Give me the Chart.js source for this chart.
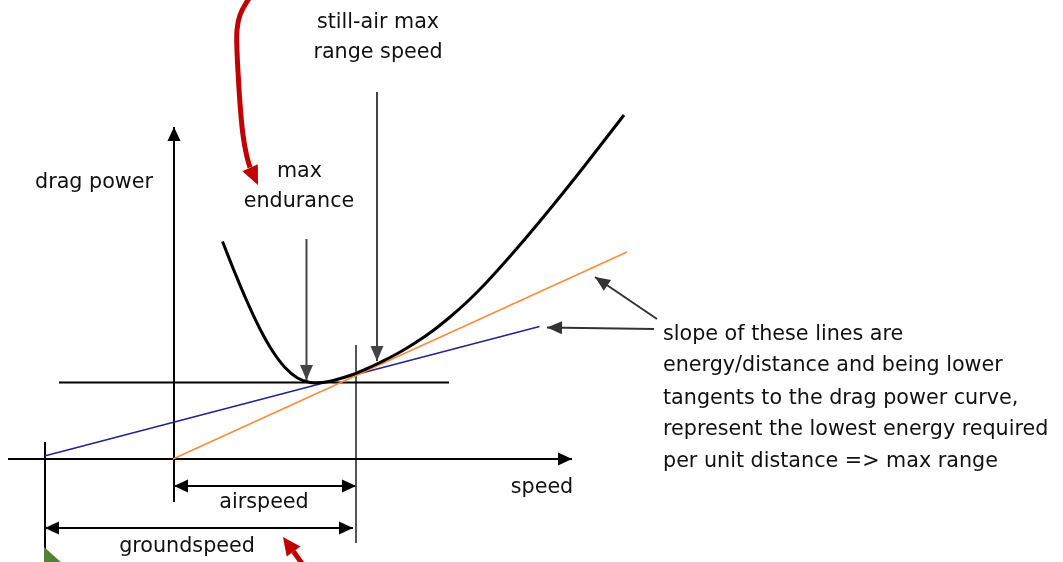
<!DOCTYPE html>
<html>
<head>
<meta charset="utf-8">
<script src="https://cdn.jsdelivr.net/npm/chart.js@4"></script>
<style>
  html, body { margin: 0; padding: 0; background: #fff; }
  canvas { display: block; }
</style>
</head>
<body>
<canvas id="chart" width="1063" height="562"></canvas>
<script>
// drag power curve (speed vs power, arbitrary units)
const curveSpeed = [9.5, 12, 14.5, 17, 19.5, 22, 24.5, 27, 29.5, 32, 35, 38, 41, 44.5, 48, 51.5, 55, 58.5, 62, 66, 70, 75, 80, 85, 89.8];
const curvePower = [43.5, 37.2, 31.3, 26.0, 21.6, 18.3, 16.2, 15.3, 15.3, 15.8, 16.7, 17.9, 19.3, 21.1, 23.2, 25.6, 28.4, 31.5, 35.0, 39.4, 44.0, 50.0, 56.2, 62.6, 68.8];

// tangent lines [speed, power]
const groundTangent = [[-26.1, 0.6], [72.9, 26.5]];
const airTangent = [[-0.4, 0], [90.4, 41.4]];

// axes and guide lines
const speedAxis = [[-33.4, 0], [79.4, 0]];
const powerAxis = [[-0.2, -8.6], [-0.2, 66.4]];
const minPowerLine = [[-23.2, 15.3], [54.8, 15.3]];
const rangeSpeedLine = [[36.2, 22.8], [36.2, -16.8]];
const groundOriginLine = [[-26, 3.4], [-26, -21]];
const airspeedDim = [[-0.2, -5.4], [36.2, -5.4]];
const groundspeedDim = [[-26, -13.8], [35.6, -13.8]];

// pointer arrows
const enduranceArrow = [[26.3, 44], [26.3, 15.8]];
const rangeArrow = [[40.4, 73.4], [40.4, 19.6]];
const bluePointer = [[95.8, 26], [74.4, 26.3]];
const orangePointer = [[96.4, 28], [84, 36.4]];
const redTopArrow = [[16.6, 94.6], [14.6, 91.8], [13, 88.8], [12.4, 85.8], [12.4, 81.8], [12.7, 75.8], [13.1, 69.8], [13.6, 64.8], [14.3, 60.8], [15, 58.3]];
const redTopTip = [16.6, 54.8];
const redBottomArrow = [[26.2, -22], [23.7, -18.5]];
const redBottomTip = [21.6, -15.6];
const greenMark = [[-26.2, -17.6], [-22.6, -20.8], [-26.2, -20.8]];

// labels
const labelTexts = ['drag power', 'max', 'endurance', 'still-air max', 'range speed', 'speed', 'airspeed', 'groundspeed'];
const labelSpeed = [-16.2, 24.9, 24.8, 40.6, 40.6, 73.4, 17.8, 2.4];
const labelPower = [55.2, 57.4, 51.4, 87.2, 81.2, -5.8, -8.8, -17.6];

const noteLines = [
  'slope of these lines are',
  'energy/distance and being lower',
  'tangents to the drag power curve,',
  'represent the lowest energy required',
  'per unit distance => max range'
];
const noteSpeed = 97.6;
const notePower = [24.8, 18.6, 12, 5.8, -0.6];

const FONT = '20.7px "DejaVu Sans", sans-serif';

const pts = (arr) => arr.map(p => ({ x: p[0], y: p[1] }));

const seg = (arr, color, width, extra) => Object.assign({
  data: pts(arr),
  borderColor: color,
  borderWidth: width,
  pointRadius: 0,
  fill: false,
  tension: 0,
  clip: false
}, extra || {});

const curveData = curveSpeed.map((s, i) => ({ x: s, y: curvePower[i] }));

const drawHead = (ctx, tip, from, len, width, color) => {
  const ang = Math.atan2(tip[1] - from[1], tip[0] - from[0]);
  ctx.save();
  ctx.translate(tip[0], tip[1]);
  ctx.rotate(ang);
  ctx.beginPath();
  ctx.moveTo(0, 0);
  ctx.lineTo(-len, width / 2);
  ctx.lineTo(-len, -width / 2);
  ctx.closePath();
  ctx.fillStyle = color;
  ctx.fill();
  ctx.restore();
};

const annotations = {
  id: 'annotations',
  afterDatasetsDraw(chart) {
    const ctx = chart.ctx;
    const xs = chart.scales.x, ys = chart.scales.y;
    const px = (p) => [xs.getPixelForValue(p[0]), ys.getPixelForValue(p[1])];

    // arrow heads
    chart.data.datasets.forEach((ds) => {
      if (!ds.heads) return;
      const p = ds.data.map(d => px([d.x, d.y]));
      const n = p.length;
      if (ds.heads.includes('end')) {
        const tip = ds.tip ? px(ds.tip) : p[n - 1];
        const from = ds.tip ? p[n - 1] : p[n - 2];
        drawHead(ctx, tip, from, ds.headLen, ds.headWidth, ds.borderColor);
      }
      if (ds.heads.includes('start')) {
        drawHead(ctx, p[0], p[1], ds.headLen, ds.headWidth, ds.borderColor);
      }
    });

    // green mark at bottom left
    ctx.save();
    ctx.beginPath();
    greenMark.forEach((g, i) => {
      const q = px(g);
      if (i === 0) ctx.moveTo(q[0], q[1]); else ctx.lineTo(q[0], q[1]);
    });
    ctx.closePath();
    ctx.fillStyle = '#548235';
    ctx.fill();
    ctx.restore();

    // text
    ctx.save();
    ctx.font = FONT;
    ctx.fillStyle = '#111';
    ctx.textBaseline = 'middle';
    ctx.textAlign = 'center';
    labelTexts.forEach((t, i) => {
      const q = px([labelSpeed[i], labelPower[i]]);
      ctx.fillText(t, q[0], q[1]);
    });
    ctx.textAlign = 'left';
    noteLines.forEach((t, i) => {
      const q = px([noteSpeed, notePower[i]]);
      ctx.fillText(t, q[0], q[1]);
    });
    ctx.restore();
  }
};

new Chart(document.getElementById('chart'), {
  type: 'line',
  data: {
    datasets: [
      {
        data: curveData,
        borderColor: '#000',
        borderWidth: 3,
        pointRadius: 0,
        tension: 0.4,
        fill: false,
        clip: false
      },
      seg(redTopArrow, '#c00000', 5, { tension: 0.4, heads: ['end'], tip: redTopTip, headLen: 19, headWidth: 17 }),
      seg(redBottomArrow, '#c00000', 5, { heads: ['end'], tip: redBottomTip, headLen: 18, headWidth: 17 }),
      seg(airTangent, '#ff8a3d', 1.5),
      seg(groundTangent, '#23238f', 1.5),
      seg(enduranceArrow, '#444', 2, { heads: ['end'], headLen: 15, headWidth: 13 }),
      seg(rangeArrow, '#444', 2, { heads: ['end'], headLen: 15, headWidth: 13 }),
      seg(bluePointer, '#333', 2, { heads: ['end'], headLen: 15, headWidth: 13 }),
      seg(orangePointer, '#333', 2, { heads: ['end'], headLen: 15, headWidth: 13 }),
      seg(speedAxis, '#000', 2, { heads: ['end'], headLen: 14, headWidth: 13 }),
      seg(powerAxis, '#000', 2, { heads: ['end'], headLen: 14, headWidth: 13 }),
      seg(minPowerLine, '#000', 2),
      seg(rangeSpeedLine, '#555', 2),
      seg(groundOriginLine, '#000', 2),
      seg(airspeedDim, '#000', 2, { heads: ['start', 'end'], headLen: 14, headWidth: 13 }),
      seg(groundspeedDim, '#000', 2, { heads: ['start', 'end'], headLen: 14, headWidth: 13 })
    ]
  },
  options: {
    responsive: false,
    animation: false,
    layout: { padding: 0 },
    plugins: { legend: { display: false }, tooltip: { enabled: false } },
    scales: {
      x: { type: 'linear', min: -35, max: 177.6, display: false },
      y: { type: 'linear', min: -20.6, max: 91.8, display: false }
    }
  },
  plugins: [annotations]
});
</script>
</body>
</html>
